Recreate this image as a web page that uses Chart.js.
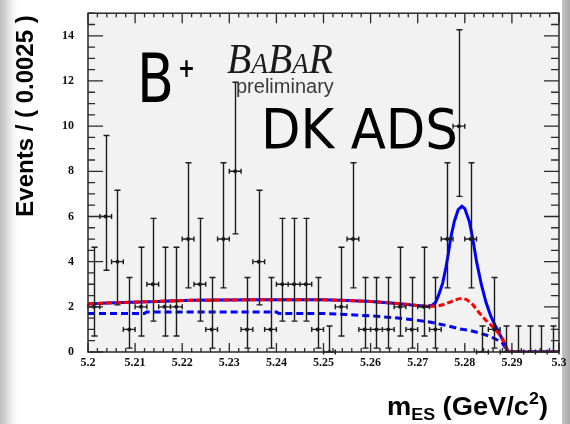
<!DOCTYPE html>
<html>
<head>
<meta charset="utf-8">
<script src="https://cdn.jsdelivr.net/npm/chart.js@4.4.1/dist/chart.umd.min.js"></script>
<style>
  html, body { margin: 0; padding: 0; background: #fff; overflow: hidden; }
  #wrap { width: 570px; height: 424px; position: relative; }
</style>
</head>
<body>
<div id="wrap"><canvas id="c" width="570" height="424"></canvas></div>
<script>
// m_ES histogram, 40 bins of 0.0025 GeV/c^2
const binWidth = 0.0025;
const binCenters = [
  5.20125, 5.20375, 5.20625, 5.20875, 5.21125, 5.21375, 5.21625, 5.21875,
  5.22125, 5.22375, 5.22625, 5.22875, 5.23125, 5.23375, 5.23625, 5.23875,
  5.24125, 5.24375, 5.24625, 5.24875, 5.25125, 5.25375, 5.25625, 5.25875,
  5.26125, 5.26375, 5.26625, 5.26875, 5.27125, 5.27375, 5.27625, 5.27875,
  5.28125, 5.28375, 5.28625, 5.28875, 5.29125, 5.29375, 5.29625, 5.29875
];
const counts = [
  2, 6, 4, 1, 2, 3, 2, 2,
  5, 3, 1, 5, 8, 1, 4, 1,
  3, 3, 3, 1, 0, 2, 5, 1,
  1, 1, 2, 1, 2, 1, 5, 10,
  5, 0, 1, 0, 0, 0, 0, 0
];
// asymmetric Poisson intervals (68%) by observed count
const poissonLow  = { 0: 0, 1: 0.827, 2: 1.292, 3: 1.633, 4: 1.914, 5: 2.159, 6: 2.379, 8: 2.768, 10: 3.108 };
const poissonHigh = { 0: 1.148, 1: 2.299, 2: 2.637, 3: 2.918, 4: 3.162, 5: 3.382, 6: 3.583, 8: 3.945, 10: 4.266 };

// fit projections [m_ES, events]
const totalFit = [
  [5.2000, 2.13], [5.2040, 2.17], [5.2130, 2.23], [5.2220, 2.29], [5.2350, 2.31],
  [5.2500, 2.31], [5.2550, 2.28], [5.2600, 2.24], [5.2650, 2.16], [5.2700, 2.06],
  [5.2720, 2.02], [5.2730, 2.06], [5.2738, 2.2], [5.2745, 2.55], [5.2753, 3.05],
  [5.2760, 3.75], [5.2765, 4.35], [5.2770, 5.05], [5.2778, 5.8], [5.2786, 6.3],
  [5.2794, 6.45], [5.2800, 6.35], [5.2810, 5.75], [5.2817, 5.0], [5.2825, 4.0],
  [5.2835, 3.0], [5.2845, 2.2], [5.2855, 1.6], [5.2865, 1.15], [5.2875, 0.75],
  [5.2885, 0.35], [5.2892, 0], [5.3000, 0]
];
const peakingBkg = [
  [5.2000, 2.13], [5.2040, 2.17], [5.2130, 2.23], [5.2220, 2.29], [5.2350, 2.31],
  [5.2500, 2.31], [5.2550, 2.28], [5.2600, 2.24], [5.2650, 2.16], [5.2700, 2.06],
  [5.2720, 2.02], [5.2740, 2.03], [5.2755, 2.1], [5.2770, 2.22], [5.2785, 2.34],
  [5.2794, 2.38], [5.2803, 2.33], [5.2815, 2.15], [5.2830, 1.75], [5.2845, 1.4],
  [5.2863, 1.05], [5.2880, 0.6], [5.2892, 0], [5.3000, 0]
];
const combinatoric = [
  [5.2000, 1.70], [5.2120, 1.71], [5.2125, 1.77], [5.2400, 1.77], [5.2405, 1.71],
  [5.2500, 1.71], [5.2550, 1.66], [5.2600, 1.60], [5.2650, 1.52], [5.2700, 1.40],
  [5.2725, 1.33], [5.2750, 1.22], [5.2767, 1.14], [5.2790, 1.02], [5.2810, 0.96],
  [5.2830, 0.85], [5.2853, 0.70], [5.2870, 0.52], [5.2880, 0.39], [5.2892, 0],
  [5.3000, 0]
];

const xTicks = [5.2, 5.21, 5.22, 5.23, 5.24, 5.25, 5.26, 5.27, 5.28, 5.29, 5.3];
const xTickLabels = ['5.2', '5.21', '5.22', '5.23', '5.24', '5.25', '5.26', '5.27', '5.28', '5.29', '5.3'];
const yTicks = [0, 2, 4, 6, 8, 10, 12, 14];
const yTickLabels = ['0', '2', '4', '6', '8', '10', '12', '14'];

const toXY = arr => arr.map(p => ({ x: p[0], y: p[1] }));

// page background, side strips and pad colour
const backdrop = {
  id: 'backdrop',
  beforeDraw(chart) {
    const { ctx, chartArea: a, width, height } = chart;
    ctx.save();
    ctx.fillStyle = '#ffffff';
    ctx.fillRect(0, 0, width, height);
    const gl = ctx.createLinearGradient(0, 0, 22, 0);
    gl.addColorStop(0, '#bfbfbf');
    gl.addColorStop(0.25, '#d2d2d2');
    gl.addColorStop(1, 'rgba(255,255,255,0)');
    ctx.fillStyle = gl;
    ctx.fillRect(0, 0, 22, height);
    const gr = ctx.createLinearGradient(562, 0, 570, 0);
    gr.addColorStop(0, '#c4c4c4');
    gr.addColorStop(1, '#a9a9a9');
    ctx.fillStyle = gr;
    ctx.fillRect(562, 0, 8, height);
    ctx.fillStyle = '#f2f2f2';
    ctx.fillRect(a.left, a.top, a.right - a.left, a.bottom - a.top);
    ctx.restore();
  }
};

// frame with inward ticks, error bars and annotations
const decorations = {
  id: 'decorations',
  afterDatasetsDraw(chart) {
    const { ctx, chartArea: a } = chart;
    const xs = chart.scales.x, ys = chart.scales.y;

    // error bars
    ctx.save();
    ctx.strokeStyle = '#1c1c1c';
    ctx.lineWidth = 1.4;
    ctx.beginPath();
    binCenters.forEach((c, i) => {
      const n = counts[i];
      const px = Math.round(xs.getPixelForValue(c)) + 0.5;
      const py = ys.getPixelForValue(n);
      const xl = xs.getPixelForValue(c - binWidth / 2);
      const xr = xs.getPixelForValue(c + binWidth / 2);
      const yt = ys.getPixelForValue(n + poissonHigh[n]);
      const yb = ys.getPixelForValue(n - poissonLow[n]);
      ctx.moveTo(xl, py); ctx.lineTo(xr, py);
      ctx.moveTo(xl, py - 2.5); ctx.lineTo(xl, py + 2.5);
      ctx.moveTo(xr, py - 2.5); ctx.lineTo(xr, py + 2.5);
      ctx.moveTo(px, yt); ctx.lineTo(px, yb);
      ctx.moveTo(px - 3, yt); ctx.lineTo(px + 3, yt);
      if (n > 0) { ctx.moveTo(px - 3, yb); ctx.lineTo(px + 3, yb); }
    });
    ctx.stroke();
    ctx.restore();

    // frame and ticks
    ctx.save();
    ctx.strokeStyle = '#2a2a2a';
    ctx.lineWidth = 1.5;
    ctx.strokeRect(a.left, a.top, a.right - a.left, a.bottom - a.top);
    ctx.lineWidth = 1.3;
    ctx.beginPath();
    for (let k = 0; k <= 50; k++) {
      const v = 5.2 + k * 0.002;
      const px = xs.getPixelForValue(v);
      const major = k % 5 === 0;
      ctx.moveTo(px, a.top); ctx.lineTo(px, a.top + (major ? 10 : 4));
      ctx.moveTo(px, a.bottom); ctx.lineTo(px, a.bottom - (major ? 9 : 4));
    }
    for (let k = 0; k <= 30; k++) {
      const v = k * 0.5;
      const py = ys.getPixelForValue(v);
      const major = k % 4 === 0;
      ctx.moveTo(a.left, py); ctx.lineTo(a.left + (major ? 15 : 7), py);
      ctx.moveTo(a.right, py); ctx.lineTo(a.right - (major ? 15 : 8), py);
    }
    ctx.stroke();
    ctx.restore();

    // annotations
    ctx.save();
    ctx.fillStyle = '#000';
    ctx.textBaseline = 'alphabetic';
    ctx.textAlign = 'left';
    const scaled = (text, font, x, y, w) => {
      ctx.font = font;
      const m = ctx.measureText(text).width;
      ctx.save();
      ctx.translate(x, y);
      ctx.scale(w / m, 1);
      ctx.fillText(text, 0, 0);
      ctx.restore();
    };
    scaled('B', '68px "DejaVu Sans"', 137, 102, 37);
    scaled('+', 'bold 26px "DejaVu Sans"', 178, 77, 17);
    scaled('DK ADS', '56px "DejaVu Sans"', 261, 148, 197);

    // BaBar logotype
    ctx.fillStyle = '#1a1a1a';
    const parts = [['B', 42], ['A', 29], ['B', 42], ['A', 29], ['R', 42]];
    let w = 0;
    parts.forEach(p => { ctx.font = 'italic ' + p[1] + 'px "Liberation Serif"'; w += ctx.measureText(p[0]).width; });
    ctx.save();
    ctx.translate(227, 73);
    ctx.scale(106 / w, 1);
    let cx = 0;
    parts.forEach(p => {
      ctx.font = 'italic ' + p[1] + 'px "Liberation Serif"';
      ctx.fillText(p[0], cx, 0);
      cx += ctx.measureText(p[0]).width;
    });
    ctx.restore();
    ctx.fillStyle = '#3a3a3a';
    ctx.font = '20px "Liberation Sans"';
    ctx.fillText('preliminary', 236, 93);
    ctx.restore();
  },
  afterDraw(chart) {
    const { ctx } = chart;
    ctx.save();
    ctx.fillStyle = '#000';
    // y title
    ctx.translate(26, 116);
    ctx.rotate(-Math.PI / 2);
    ctx.textAlign = 'center';
    ctx.textBaseline = 'middle';
    ctx.font = 'bold 24px "Liberation Sans"';
    ctx.fillText('Events / ( 0.0025 )', 0, 0);
    ctx.restore();

    // x title with sub/superscripts
    ctx.save();
    ctx.fillStyle = '#000';
    ctx.textAlign = 'left';
    ctx.textBaseline = 'alphabetic';
    const pieces = [
      ['m', 26, 0], ['ES', 17, 5], [' (GeV/c', 26, 0], ['2', 17, -11], [')', 26, 0]
    ];
    let tw = 0;
    pieces.forEach(p => { ctx.font = 'bold ' + p[1] + 'px "Liberation Sans"'; tw += ctx.measureText(p[0]).width; });
    ctx.translate(387, 415);
    ctx.scale(161 / tw, 1);
    let x = 0;
    pieces.forEach(p => {
      ctx.font = 'bold ' + p[1] + 'px "Liberation Sans"';
      ctx.fillText(p[0], x, p[2]);
      x += ctx.measureText(p[0]).width;
    });
    ctx.restore();
  }
};

new Chart(document.getElementById('c'), {
  type: 'scatter',
  data: {
    datasets: [
      {
        label: 'combinatoric',
        data: toXY(combinatoric),
        showLine: true, borderColor: '#0000ff', borderWidth: 3, borderDash: [7, 4],
        pointRadius: 0, fill: false, tension: 0, order: 4
      },
      {
        label: 'total',
        data: toXY(totalFit),
        showLine: true, borderColor: '#0000ff', borderWidth: 3,
        pointRadius: 0, fill: false, tension: 0, order: 3
      },
      {
        label: 'peaking',
        data: toXY(peakingBkg),
        showLine: true, borderColor: '#ff0000', borderWidth: 3, borderDash: [6, 3],
        pointRadius: 0, fill: false, tension: 0, order: 2
      },
      {
        label: 'data',
        data: binCenters.map((c, i) => ({ x: c, y: counts[i] })),
        showLine: false, pointRadius: 2, pointBackgroundColor: '#111', pointBorderWidth: 0,
        order: 1
      }
    ]
  },
  options: {
    responsive: false,
    animation: false,
    devicePixelRatio: 1,
    layout: { padding: { left: 0, right: 11, top: 10, bottom: 52 } },
    plugins: { legend: { display: false }, tooltip: { enabled: false } },
    scales: {
      x: {
        type: 'linear', min: 5.2, max: 5.3,
        afterBuildTicks: s => { s.ticks = xTicks.map(v => ({ value: v })); },
        afterFit: s => { s.height = 20; },
        grid: { display: false }, border: { display: false },
        ticks: {
          autoSkip: false, maxRotation: 0, padding: -4, color: '#111',
          font: { family: 'Liberation Serif', size: 12, weight: 'bold' },
          callback: (v, i) => xTickLabels[i]
        }
      },
      y: {
        type: 'linear', min: 0, max: 15,
        afterBuildTicks: s => { s.ticks = yTicks.map(v => ({ value: v })); },
        afterFit: s => { s.width = 88; },
        grid: { display: false }, border: { display: false },
        ticks: {
          autoSkip: false, padding: 6, color: '#111',
          font: { family: 'Liberation Serif', size: 12, weight: 'bold' },
          callback: (v, i) => yTickLabels[i]
        }
      }
    }
  },
  plugins: [backdrop, decorations]
});
</script>
</body>
</html>
